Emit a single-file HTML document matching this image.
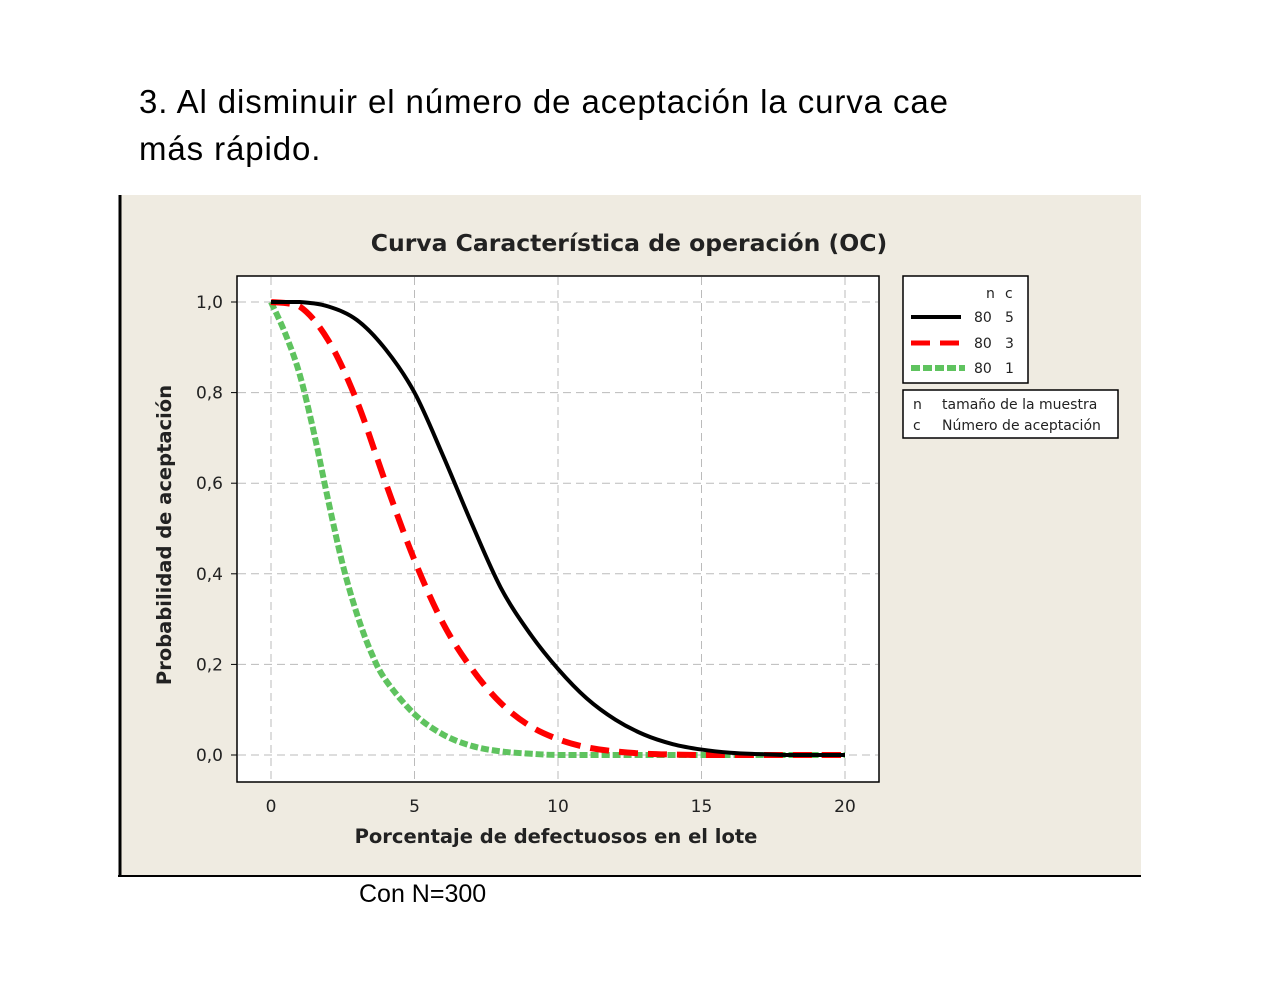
<!DOCTYPE html>
<html><head><meta charset="utf-8"><style>
body{margin:0;width:1280px;height:989px;background:#fff;overflow:hidden;position:relative;font-family:"Liberation Sans",sans-serif}
.h{position:absolute;left:139px;font-family:"Liberation Sans",sans-serif;font-size:33px;letter-spacing:0.9px;color:#000}
</style></head><body>
<div class="h" style="top:83px">3. Al disminuir el número de aceptación la curva cae</div>
<div class="h" style="top:130px">más rápido.</div>
<svg width="1280" height="989" style="position:absolute;left:0;top:0" id="chart" font-family="DejaVu Sans, sans-serif">
<rect x="119" y="195" width="1022" height="681" fill="#efebe1"/>
<line x1="120" y1="195" x2="120" y2="877" stroke="#000" stroke-width="3"/>
<line x1="118" y1="876" x2="1141" y2="876" stroke="#000" stroke-width="2"/>
<text x="629" y="251" text-anchor="middle" font-size="23.5" font-weight="bold" fill="#222">Curva Característica de operación (OC)</text>
<rect x="237" y="276" width="642" height="506" fill="#fff" stroke="#000" stroke-width="1.5"/>
<g id="grid"></g><g id="ticks"></g><g id="series"></g>
<text x="556" y="843" text-anchor="middle" font-size="19.5" font-weight="bold" fill="#222">Porcentaje de defectuosos en el lote</text>
<text transform="translate(171,535) rotate(-90)" text-anchor="middle" font-size="19.5" font-weight="bold" fill="#222">Probabilidad de aceptación</text>
<g>
<rect x="903" y="276" width="125" height="107" fill="#fff" stroke="#000" stroke-width="1.5"/>
<text x="986" y="298" font-size="14" fill="#222">n</text><text x="1005" y="298" font-size="14" fill="#222">c</text>
<line x1="911" y1="317" x2="961" y2="317" stroke="#000" stroke-width="4"/>
<text x="974" y="322" font-size="14" fill="#222">80</text><text x="1005" y="322" font-size="14" fill="#222">5</text>
<line x1="911" y1="343" x2="961" y2="343" stroke="#f00" stroke-width="5" stroke-dasharray="19,10"/>
<text x="974" y="348" font-size="14" fill="#222">80</text><text x="1005" y="348" font-size="14" fill="#222">3</text>
<line x1="911" y1="368" x2="965" y2="368" stroke="#5fc35f" stroke-width="6" stroke-dasharray="9,3"/>
<text x="974" y="373" font-size="14" fill="#222">80</text><text x="1005" y="373" font-size="14" fill="#222">1</text>
</g>
<g>
<rect x="903" y="390" width="215" height="48" fill="#fff" stroke="#000" stroke-width="1.5"/>
<text x="913" y="409" font-size="14" fill="#222">n</text><text x="942" y="409" font-size="14" fill="#222">tamaño de la muestra</text>
<text x="913" y="430" font-size="14" fill="#222">c</text><text x="942" y="430" font-size="14" fill="#222">Número de aceptación</text>
</g>
</svg>
<div style="position:absolute;left:359px;top:880px;font-size:25px">Con N=300</div>
<script>
const xTicks=[0,5,10,15,20];
const yTicks=[0,0.2,0.4,0.6,0.8,1.0];
const yTickLabels=["0,0","0,2","0,4","0,6","0,8","1,0"];
const xC5=[0,1,2,3,4,5,6,7,8,9,10,11,12,13,14,15,16,17,18,19,20];
const yC5=[1,1,0.99,0.96,0.895,0.8,0.66,0.51,0.37,0.27,0.19,0.125,0.078,0.045,0.024,0.012,0.005,0.002,0,0,0];
const xC3=[0,1,2,3,4,5,6,7,8,9,10,11,12,13,14,15,16,17,18,19,20];
const yC3=[1,0.99,0.915,0.78,0.6,0.43,0.29,0.19,0.115,0.065,0.035,0.017,0.008,0.003,0.001,0,0,0,0,0,0];
const xC1=[0,0.5,1,1.5,2,2.5,3,3.5,4,5,6,7,8,9,10,12,14,16,18,20];
const yC1=[1,0.93,0.84,0.71,0.56,0.42,0.31,0.225,0.165,0.09,0.045,0.02,0.008,0.003,0,0,0,0,0,0];
const X=v=>271+v*28.7, Y=v=>755-v*453;
const NS="http://www.w3.org/2000/svg";
function mk(t,a,p){const e=document.createElementNS(NS,t);for(const k in a)e.setAttribute(k,a[k]);p.appendChild(e);return e;}
const g=document.getElementById('grid'),tk=document.getElementById('ticks'),s=document.getElementById('series');
xTicks.forEach(v=>{
 const l=mk('line',{x1:X(v),x2:X(v),y1:277,y2:781,stroke:'#bbb','stroke-dasharray':'8,5'},g);
 
 
 const t=mk('text',{x:X(v),y:812,'text-anchor':'middle','font-size':17,fill:'#222'},tk);t.textContent=v;
 
 
});
yTicks.forEach((v,i)=>{
 const l=mk('line',{x1:238,x2:878,y1:Y(v),y2:Y(v),stroke:'#bbb','stroke-dasharray':'8,5'},g);
 
 
 mk('line',{x1:231,x2:237,y1:Y(v),y2:Y(v),stroke:'#000'},tk);
 const t=mk('text',{x:223,y:Y(v)+6,'text-anchor':'end','font-size':17,fill:'#222'},tk);t.textContent=yTickLabels[i];
 
 
});
function smooth(xs,ys){
 const P=xs.map((x,i)=>[X(x),Y(ys[i])]);
 let d='M'+P[0][0]+','+P[0][1];
 for(let i=0;i<P.length-1;i++){
  const p0=P[Math.max(0,i-1)],p1=P[i],p2=P[i+1],p3=P[Math.min(P.length-1,i+2)];
  let c1y=p1[1]+(p2[1]-p0[1])/6, c2y=p2[1]-(p3[1]-p1[1])/6;
  const lo=Math.min(p1[1],p2[1]),hi=Math.max(p1[1],p2[1]);
  c1y=Math.min(hi,Math.max(lo,c1y));c2y=Math.min(hi,Math.max(lo,c2y));
  d+=` C${p1[0]+(p2[0]-p0[0])/6},${c1y} ${p2[0]-(p3[0]-p1[0])/6},${c2y} ${p2[0]},${p2[1]}`;
 }
 return d;
}
function line(xs,ys,attrs,name){
 const p=mk('path',Object.assign({d:smooth(xs,ys),fill:'none'},attrs),s);
 
 
}
line(xC1,yC1,{stroke:'#5fc35f','stroke-width':6,'stroke-dasharray':'8,3'},'series-c1');
line(xC3,yC3,{stroke:'#f00','stroke-width':6,'stroke-dasharray':'19,10'},'series-c3');
line(xC5,yC5,{stroke:'#000','stroke-width':4},'series-c5');
</script>
</body></html>
